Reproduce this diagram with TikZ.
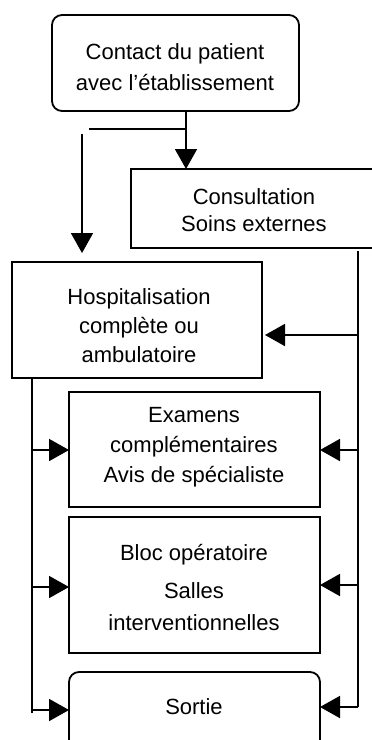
\documentclass[tikz,border=0pt]{standalone}
\usepackage{fontspec}
\setmainfont{Liberation Sans}
\usetikzlibrary{arrows.meta}
\newcommand\fs{\fontsize{22}{31}\selectfont}
\begin{document}
\begin{tikzpicture}[x=1pt,y=-1pt,
  box/.style={draw, line width=1.8pt, inner sep=0pt, outer sep=0pt},
  rbox/.style={box, rounded corners=10pt},
  txt/.style={align=center, font=\fs, inner sep=0pt},
  arr/.style={-{Triangle[length=20pt,width=22pt]}, line width=1.8pt},
  ln/.style={line width=1.8pt}]
\useasboundingbox (0,0) rectangle (372,740);
\clip (0,0) rectangle (372,740);
% boxes
\node[rbox, minimum width=247pt, minimum height=96pt] (contact) at (175.5,63) {};
\node[box, minimum width=247pt, minimum height=79pt] (consult) at (254.5,208.5) {};
\node[box, minimum width=250pt, minimum height=116pt] (hosp) at (137,320) {};
\node[box, minimum width=251pt, minimum height=115pt] (exam) at (194.5,449.5) {};
\node[box, minimum width=251pt, minimum height=136pt] (bloc) at (194.5,585) {};
\node[rbox, minimum width=251pt, minimum height=100pt] (sortie) at (194.5,722) {};
% texts
\node[txt] (tcontact) at (175,67) {Contact du patient\\avec l'établissement};
\node[txt] (tconsult) at (254,210.5) {Consultation\\[-4pt]Soins externes};
\node[txt] (thosp) at (139,326) {Hospitalisation\\[-2pt]complète ou\\[-2pt]ambulatoire};
\node[txt] (texam) at (194,447.5) {Examens\\[-1pt]complémentaires\\[-1pt]Avis de spécialiste};
\node[txt] (tbloc) at (194,587) {Bloc opératoire\\[7pt]Salles\\[1pt]interventionnelles};
\node[txt] (tsortie) at (194,707) {Sortie};
% junction coordinates
\coordinate (j1) at (186,129);
\coordinate (h1) at (89,129);
\coordinate (l1) at (82,134);
\coordinate (l2) at (82,253);
\coordinate (r0) at (358,251);
\coordinate (r1) at (358,335);
\coordinate (r2) at (358,450);
\coordinate (r3) at (358,585);
\coordinate (r4) at (358,707);
\coordinate (q0) at (32,377);
\coordinate (q1) at (32,450);
\coordinate (q2) at (32,587);
\coordinate (q3) at (32,710);
\coordinate (q4) at (32,713);
\coordinate (hr) at (265,335);
% connectors
\draw[arr] (contact.south -| j1) -- (consult.north -| j1);
\draw[ln] (j1) -- (h1);
\draw[arr] (l1) -- (l2);
\draw[ln] (r0) -- (r4);
\draw[arr] (r1) -- (hr);
\draw[arr] (r2) -- (exam.east |- r2);
\draw[arr] (r3) -- (bloc.east |- r3);
\draw[arr] (r4) -- (sortie.east |- r4);
\draw[ln] (q0) -- (q4);
\draw[arr] (q1) -- (exam.west |- q1);
\draw[arr] (q2) -- (bloc.west |- q2);
\draw[arr] (q3) -- (sortie.west |- q3);
\end{tikzpicture}
\end{document}
